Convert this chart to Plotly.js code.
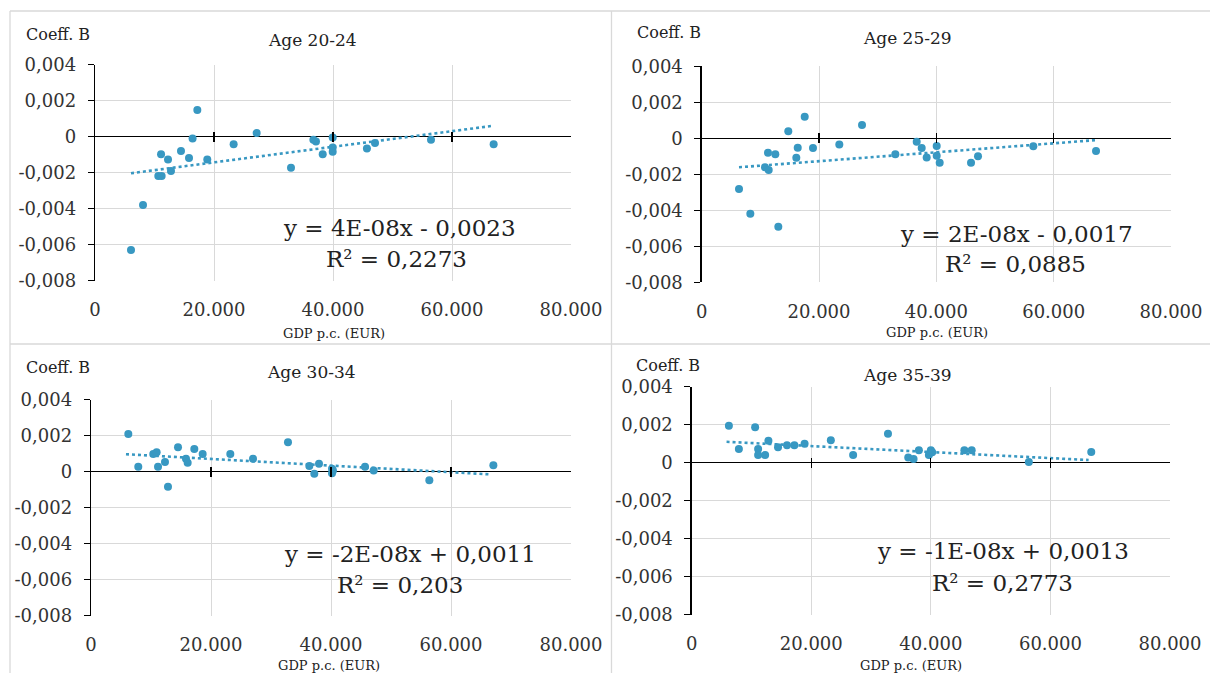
<!DOCTYPE html>
<html>
<head>
<meta charset="utf-8">
<script src="https://cdn.plot.ly/plotly-3.0.1.min.js"></script>
<style>html,body{margin:0;padding:0;background:#fff;}#chart{width:1210px;height:673px;}</style>
</head>
<body>
<div id="chart"></div>
<script>
// ---------- DATA ----------
const panelTitles = ["Age 20-24", "Age 25-29", "Age 30-34", "Age 35-39"];
const yAxisLabel = "Coeff. B";
const xAxisLabel = "GDP p.c. (EUR)";

const xTickVals = [0, 20000, 40000, 60000, 80000];
const xTickText = ["0", "20.000", "40.000", "60.000", "80.000"];
const yTickVals = [0.004, 0.002, 0, -0.002, -0.004, -0.006, -0.008];
const yTickText = ["0,004", "0,002", "0", "-0,002", "-0,004", "-0,006", "-0,008"];

const gdp2024 = [6050, 8070, 10640, 11200, 11100, 12270, 12770, 14450, 15800, 16400, 17200, 18870, 23300, 27170, 32940, 36700, 37140, 38270, 39950, 39950, 39950, 45700, 47060, 56470, 67000];
const coef2024 = [-0.0063, -0.0038, -0.00218, -0.00218, -0.00098, -0.00126, -0.0019, -0.00079, -0.00118, -0.0001, 0.00148, -0.00126, -0.00042, 0.0002, -0.00172, -0.00017, -0.00026, -0.00098, -0.00005, -0.0006, -0.00083, -0.00065, -0.00035, -0.00017, -0.00042];

const gdp2529 = [6360, 8290, 13060, 10790, 11420, 11300, 12550, 14760, 17560, 16370, 16130, 18970, 23460, 27330, 33010, 36650, 37500, 38350, 40060, 40060, 40570, 45910, 47100, 56530, 67220];
const coef2529 = [-0.00282, -0.00419, -0.00491, -0.00161, -0.00176, -0.0008, -0.00089, 0.00039, 0.0012, -0.00052, -0.00108, -0.00054, -0.00035, 0.00074, -0.00089, -0.00019, -0.00054, -0.00107, -0.00043, -0.00097, -0.00136, -0.00136, -0.001, -0.00044, -0.00071];

const gdp3034 = [6220, 7880, 10380, 10940, 11170, 12330, 12830, 14500, 15830, 16110, 17220, 18610, 23220, 27000, 32830, 36390, 37220, 38000, 40170, 40170, 40330, 45670, 47110, 56390, 67060];
const coef3034 = [0.0021, 0.00028, 0.00098, 0.00108, 0.00028, 0.00054, -0.00083, 0.00136, 0.00072, 0.0005, 0.00126, 0.00098, 0.00098, 0.00072, 0.00163, 0.00032, -0.00011, 0.00044, 0.00017, -0.00009, 0.00006, 0.00028, 0.00006, -0.00048, 0.00036];

const gdp3539 = [6220, 7890, 10610, 11110, 11110, 12280, 12830, 14440, 15940, 17170, 18880, 23270, 27000, 32830, 36220, 37110, 38000, 39670, 40000, 40220, 45610, 46830, 56390, 66830];
const coef3539 = [0.00195, 0.00072, 0.00186, 0.00072, 0.0004, 0.0004, 0.00116, 0.00081, 0.00092, 0.00092, 0.001, 0.00118, 0.0004, 0.00153, 0.00028, 0.00019, 0.00065, 0.0004, 0.00065, 0.00055, 0.00065, 0.00065, 0.00004, 0.00056];

// linear trendline end points (as drawn in the picture)
const trendX2024 = [6050, 67000];  const trendY2024 = [-0.00203, 0.00061];
const trendX2529 = [6360, 67220];  const trendY2529 = [-0.00161, -0.0001];
const trendX3034 = [5830, 66500];  const trendY3034 = [0.00097, -0.00015];
const trendX3539 = [5830, 66390];  const trendY3539 = [0.0011, 0.00014];

const equations = ["y = 4E-08x - 0,0023", "y = 2E-08x - 0,0017", "y = -2E-08x + 0,0011", "y = -1E-08x + 0,0013"];
const rSquared = ["R² = 0,2273", "R² = 0,0885", "R² = 0,203", "R² = 0,2773"];

// ---------- LAYOUT GEOMETRY ----------
const W = 1210, H = 673;
const px = x => x / W;
const py = y => 1 - y / H;
const FONT = "DejaVu Serif, Liberation Serif, serif";
const BLUE = "rgb(56,152,194)";

const geo = [
  {l: 95,    r: 571,  t: 64.7,  b: 280.7, title: [312, 40],  coeff: [24, 34],  gdp: [334, 333], eq: [399, 228], r2: [397, 259]},
  {l: 701.7, r: 1171, t: 66.3,  b: 282.3, title: [907, 38],  coeff: [635, 32], gdp: [937, 332], eq: [1016, 234], r2: [1015, 264]},
  {l: 91,    r: 571,  t: 399.7, b: 615.7, title: [311, 372], coeff: [24, 368], gdp: [329, 665], eq: [410, 554], r2: [400, 585]},
  {l: 691.7, r: 1170, t: 386.7, b: 614.7, title: [907, 375], coeff: [634, 366], gdp: [911, 665], eq: [1003, 551], r2: [1003, 583]}
];

const series = [
  {x: gdp2024, y: coef2024, tx: trendX2024, ty: trendY2024},
  {x: gdp2529, y: coef2529, tx: trendX2529, ty: trendY2529},
  {x: gdp3034, y: coef3034, tx: trendX3034, ty: trendY3034},
  {x: gdp3539, y: coef3539, tx: trendX3539, ty: trendY3539}
];

const data = [];
const layout = {
  width: W, height: H,
  margin: {l: 0, r: 0, t: 0, b: 0},
  paper_bgcolor: "#fff", plot_bgcolor: "#fff",
  showlegend: false,
  font: {family: FONT, color: "#222"},
  annotations: [],
  shapes: []
};

series.forEach((s, i) => {
  const n = i + 1;
  const xa = "x" + n, ya = "y" + n;
  const g = geo[i];
  data.push({x: s.tx, y: s.ty, xaxis: xa, yaxis: ya, mode: "lines",
    line: {color: BLUE, width: 2.6, dash: "dot"}, hoverinfo: "skip"});
  data.push({x: s.x, y: s.y, xaxis: xa, yaxis: ya, mode: "markers",
    marker: {color: BLUE, size: 8}, hoverinfo: "x+y"});
  // invisible trace for the tick-mark axis on the zero line
  data.push({x: s.x, y: s.y, xaxis: "x" + (n + 4), yaxis: ya, mode: "markers",
    marker: {opacity: 0, size: 1}, hoverinfo: "skip"});

  const zeroPx = g.t + (0.004 / 0.012) * (g.b - g.t);
  layout["xaxis" + n] = {
    domain: [px(g.l), px(g.r)], anchor: ya, range: [0, 80000],
    tickvals: xTickVals, ticktext: xTickText,
    showgrid: true, gridcolor: "#d9d9d9", gridwidth: 1,
    zeroline: false, showline: false,
    ticks: "outside", ticklen: 13, tickcolor: "rgba(0,0,0,0)",
    tickfont: {family: FONT, size: 18, color: "#333"}, fixedrange: true
  };
  layout["yaxis" + n] = {
    domain: [py(g.b), py(g.t)], anchor: xa, range: [-0.008, 0.004],
    tickvals: yTickVals, ticktext: yTickText,
    showgrid: true, gridcolor: "#d9d9d9", gridwidth: 1,
    zeroline: true, zerolinecolor: "#000", zerolinewidth: 1.5,
    showline: true, linecolor: "#000", linewidth: 1.3,
    ticks: "outside", ticklen: 6, tickcolor: "#000", tickwidth: 1.2,
    ticklabelstandoff: 8,
    tickfont: {family: FONT, size: 18, color: "#333"}, fixedrange: true
  };
  layout["xaxis" + (n + 4)] = {
    overlaying: xa, anchor: "free", position: py(zeroPx + 5),
    range: [0, 80000], tickvals: xTickVals, showticklabels: false,
    ticks: "inside", ticklen: 10, tickcolor: "#000", tickwidth: 1.2,
    showgrid: false, zeroline: false, showline: false, fixedrange: true
  };

  const ann = (text, pos, size, xanchor) => layout.annotations.push({
    text: text, x: px(pos[0]), y: py(pos[1]), xref: "paper", yref: "paper",
    xanchor: xanchor || "center", yanchor: "middle", showarrow: false,
    font: {family: FONT, size: size, color: "#222"}
  });
  ann(panelTitles[i], g.title, 17);
  ann(yAxisLabel, g.coeff, 16, "left");
  ann(xAxisLabel, g.gdp, 13);
  ann(equations[i], g.eq, 23);
  ann(rSquared[i], g.r2, 23);
});

// chart-area frame lines
const frame = [[10, 11, 1210, 11], [10, 11, 10, 673], [611.5, 11, 611.5, 673], [10, 344, 1210, 344]];
frame.forEach(f => layout.shapes.push({type: "line", xref: "paper", yref: "paper",
  x0: px(f[0]), y0: py(f[1]), x1: px(f[2]), y1: py(f[3]), line: {color: "#d9d9d9", width: 1.3}}));

Plotly.newPlot("chart", data, layout, {displayModeBar: false, staticPlot: true});
</script>
</body>
</html>
